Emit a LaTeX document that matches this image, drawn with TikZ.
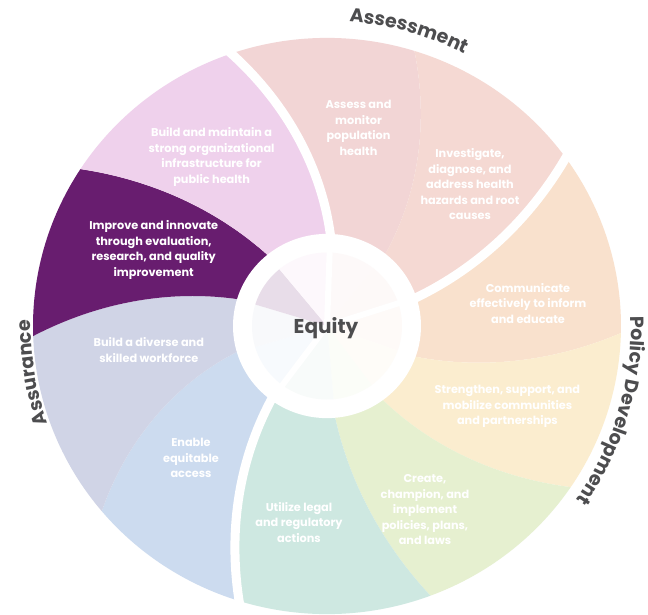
\documentclass[tikz,border=0pt]{standalone}
\usepackage{fontspec}
\setmainfont{Poppins}
\usetikzlibrary{decorations.text}
\definecolor{cAssess}{RGB}{242,213,213}
\definecolor{cInvest}{RGB}{245,217,211}
\definecolor{cComm}{RGB}{249,225,205}
\definecolor{cStrength}{RGB}{251,237,207}
\definecolor{cCreate}{RGB}{230,240,208}
\definecolor{cUtil}{RGB}{206,232,225}
\definecolor{cEnable}{RGB}{204,219,239}
\definecolor{cDiverse}{RGB}{208,212,230}
\definecolor{cImprove}{RGB}{104,29,111}
\definecolor{cBuild}{RGB}{239,209,236}
\definecolor{labelgray}{RGB}{77,77,79}
\newcommand\WRo{294}
\newcommand\WRi{94}
% segment between two spiral boundaries (inner angle, outer angle)
\newcommand\wheelseg[5]{%
 \fill[#1] plot[domain=84:\WRo, samples=40, variable=\rad] ({#2+(#3-(#2))*(\rad-\WRi)/(\WRo-\WRi)}:{\rad})
   arc[start angle=#3, end angle=#5, radius=\WRo]
   -- plot[domain=\WRo:84, samples=40, variable=\rad] ({#4+(#5-(#4))*(\rad-\WRi)/(\WRo-\WRi)}:{\rad}) -- cycle;}
\newcommand\wheelgap[2]{%
 \draw[white, line width=9pt] plot[domain=70:310, samples=40, variable=\rad] ({#1+(#2-(#1))*(\rad-\WRi)/(\WRo-\WRi)}:{\rad});}
\newcommand\fadedwedge[3]{%
 \fill[#1!15!white] (0,0) -- (#2:75) arc[start angle=#2, end angle=#3, radius=75] -- cycle;}
\tikzset{
 segtext/.style={text=white, font=\bfseries\fontsize{11.3}{15.5}\selectfont, align=center, inner sep=0pt},
 grouplabel/.style={decorate, decoration={text along path, text align=center, text color=labelgray,
   text={|\bfseries\fontsize{19}{19}\selectfont|#1}}}
}
\begin{document}
\begin{tikzpicture}[x=1pt,y=1pt]
\useasboundingbox (0,0) rectangle (648,-615);
\fill[white] (0,0) rectangle (648,-615);
\begin{scope}[shift={(327,-326)}, yscale=0.98]
 % ten segments
 \wheelseg{cAssess}{88}{109}{51.6}{72.7}
 \wheelseg{cInvest}{51.6}{72.7}{18}{35.7}
 \wheelseg{cComm}{18}{35.7}{-19.5}{-1.4}
 \wheelseg{cStrength}{-19.5}{-1.4}{-53.5}{-34}
 \wheelseg{cCreate}{-53.5}{-34}{-85}{-69.4}
 \wheelseg{cUtil}{-85}{-69.4}{-126.5}{-107.4}
 \wheelseg{cEnable}{-126.5}{-107.4}{-163.6}{-140}
 \wheelseg{cDiverse}{-163.6}{-140}{-197}{-178}
 \wheelseg{cImprove}{-197}{-178}{-230.6}{-213}
 \wheelseg{cBuild}{-230.6}{-213}{-272}{-251}
 % white gaps between the three groups
 \wheelgap{88}{109}
 \wheelgap{18}{35.7}
 \wheelgap{-126.5}{-107.4}
 % centre
 \fill[white] (0,0) circle[radius=\WRi];
 \fadedwedge{cAssess}{88}{51.6}
 \fadedwedge{cInvest}{51.6}{18}
 \fadedwedge{cComm}{18}{-19.5}
 \fadedwedge{cStrength}{-19.5}{-53.5}
 \fadedwedge{cCreate}{-53.5}{-85}
 \fadedwedge{cUtil}{-85}{-126.5}
 \fadedwedge{cEnable}{-126.5}{-163.6}
 \fadedwedge{cDiverse}{-163.6}{-197}
 \fadedwedge{cImprove}{-197}{-230.6}
 \fadedwedge{cBuild}{-230.6}{-272}
 \draw[white, line width=6pt] (0,0) -- (88:80);
 \draw[white, line width=6pt] (0,0) -- (18:80);
 \draw[white, line width=6pt] (0,0) -- (-126.5:80);
\end{scope}
% curved group labels
\begin{scope}[shift={(327,-326)}]
 \path[grouplabel={Assessment}] (98:305) arc[start angle=98, end angle=51, radius=305];
 \path[grouplabel={Policy Development}] (14:304) arc[start angle=14, end angle=-47, radius=304];
 \path[grouplabel={Assurance}] (212:296) arc[start angle=212, end angle=166, radius=296];
\end{scope}
% segment texts
\node[segtext] (tAssess) at (358.5,-128) {Assess and\\monitor\\population\\health};
\node[segtext] (tInvest) at (470,-184.5) {Investigate,\\diagnose, and\\address health\\hazards and root\\causes};
\node[segtext] (tComm) at (528,-303.3) {Communicate\\effectively to inform\\and educate};
\node[segtext] (tStrength) at (507.4,-406.5) {Strengthen, support, and\\mobilize communities\\and partnerships};
\node[segtext] (tCreate) at (425,-510) {Create,\\champion, and\\implement\\policies, plans,\\and laws};
\node[segtext] (tUtil) at (299,-522.5) {Utilize legal\\and regulatory\\actions};
\node[segtext] (tEnable) at (191,-458) {Enable\\equitable\\access};
\node[segtext] (tDiverse) at (148.8,-350) {Build a diverse and\\skilled workforce};
\node[segtext] (tImprove) at (153.7,-250) {Improve and innovate\\through evaluation,\\research, and quality\\improvement};
\node[segtext] (tBuild) at (211.6,-157) {Build and maintain a\\strong organizational\\infrastructure for\\public health};
\node[font=\bfseries\fontsize{20}{20}\selectfont, text=labelgray] (equity) at (326,-328) {Equity};
\end{tikzpicture}
\end{document}
